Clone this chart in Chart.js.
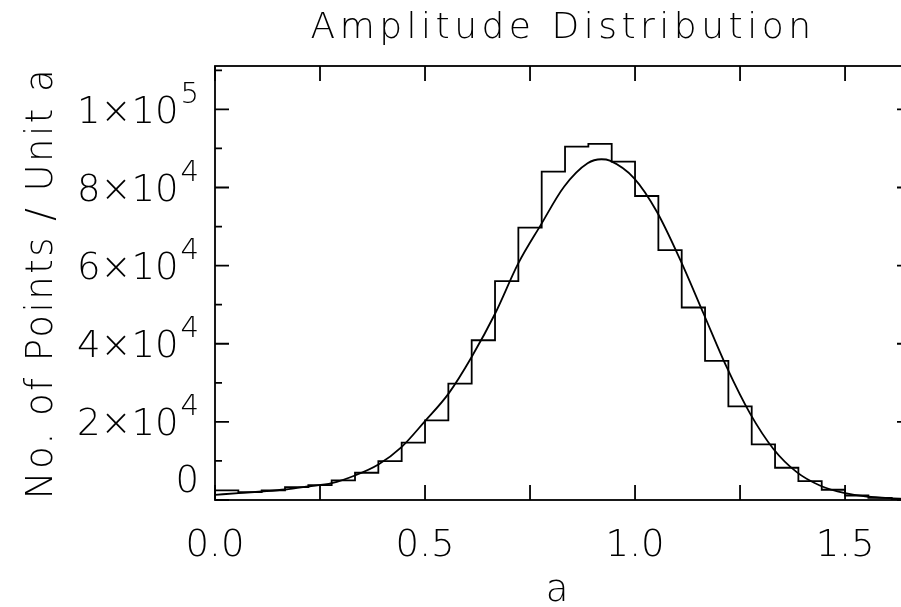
<!DOCTYPE html>
<html>
<head>
<meta charset="utf-8">
<title>Amplitude Distribution</title>
<script src="https://cdn.jsdelivr.net/npm/chart.js@4.4.1/dist/chart.umd.min.js"></script>
<style>
  html, body { margin: 0; padding: 0; background: #fff; overflow: hidden; }
  canvas { display: block; }
</style>
</head>
<body>
<canvas id="histChart" width="915" height="607"></canvas>
<script>
// histogram: bins of width 1/18 starting at a = 0
const binWidth = 1 / 18;
const binCounts = [
  2440, 2000, 2440, 3280, 3800, 5000, 6970, 9950, 14670, 20380,
  29800, 40900, 56030, 69700, 84050, 90460, 91150, 86600, 77820, 63970,
  49280, 35600, 23970, 14230, 8260, 4820, 2620, 1150, 560, 250
];

// fitted curve
const fitA = [0.0, 0.056, 0.111, 0.167, 0.222, 0.278, 0.333, 0.389, 0.444, 0.5,
  0.556, 0.611, 0.667, 0.722, 0.775, 0.831, 0.887, 0.92, 0.94, 0.998,
  1.052, 1.108, 1.163, 1.218, 1.274, 1.329, 1.385, 1.44, 1.5, 1.552, 1.607, 1.657];
const fitN = [1330, 1750, 2180, 2690, 3460, 4310, 6280, 9100, 13540, 20200,
  27230, 36620, 47740, 60560, 70300, 80200, 86200, 87230, 86870, 82360,
  73800, 61400, 47740, 34050, 22100, 13130, 7130, 3720, 1750, 900, 460, 250];

// axis labels
const xTickValues = [0, 0.5, 1.0, 1.5];
const xTickText = ['0.0', '0.5', '1.0', '1.5'];
const yTickValues = [0, 20000, 40000, 60000, 80000, 100000];
const yTickText = ['0', '2×10', '4×10', '6×10', '8×10', '1×10'];
const yTickExp = ['', '4', '4', '4', '4', '5'];

const FONT = '"DejaVu Sans", sans-serif';
const INK = '#000';

const histPoints = binCounts.map((c, i) => ({ x: i * binWidth, y: c }));
histPoints.push({ x: binCounts.length * binWidth, y: binCounts[binCounts.length - 1] });
const fitPoints = fitA.map((a, i) => ({ x: a, y: fitN[i] }));

const spacing = (ctx, px) => { if ('letterSpacing' in ctx) ctx.letterSpacing = px + 'px'; };

// IDL-like frame, inward ticks and labels
const idlAxes = {
  id: 'idlAxes',
  afterDatasetsDraw(chart) {
    const { ctx, chartArea: ca } = chart;
    const xs = chart.scales.x;
    const ys = chart.scales.y;
    ctx.save();
    ctx.strokeStyle = INK;
    ctx.fillStyle = INK;
    ctx.lineWidth = 1.8;
    ctx.strokeRect(ca.left, ca.top, ca.right - ca.left, ca.bottom - ca.top);

    ctx.beginPath();
    for (let a = 0; a <= xs.max + 1e-9; a += 0.25) {
      const px = xs.getPixelForValue(a);
      ctx.moveTo(px, ca.bottom); ctx.lineTo(px, ca.bottom - 15);
      ctx.moveTo(px, ca.top); ctx.lineTo(px, ca.top + 15);
    }
    for (let v = 0; v <= ys.max; v += 10000) {
      const py = ys.getPixelForValue(v);
      const len = v % 20000 === 0 ? 14 : 7;
      ctx.moveTo(ca.left, py); ctx.lineTo(ca.left + len, py);
      ctx.moveTo(ca.right, py); ctx.lineTo(ca.right - len, py);
    }
    ctx.stroke();

    spacing(ctx, 0);
    // x tick labels
    ctx.font = `200 37px ${FONT}`;
    ctx.textAlign = 'center';
    ctx.textBaseline = 'alphabetic';
    xTickValues.forEach((v, i) => {
      ctx.fillText(xTickText[i], xs.getPixelForValue(v), 556);
    });

    // y tick labels with superscript exponent
    const rightEdge = 199;
    yTickValues.forEach((v, i) => {
      const py = ys.getPixelForValue(v);
      ctx.textAlign = 'left';
      ctx.font = `200 29px ${FONT}`;
      const ew = yTickExp[i] ? ctx.measureText(yTickExp[i]).width + 2 : 0;
      ctx.font = `200 37px ${FONT}`;
      const mw = ctx.measureText(yTickText[i]).width;
      const x0 = rightEdge - ew - mw;
      if (!yTickExp[i]) {
        ctx.fillText(yTickText[i], x0, py - 8);
      } else {
        ctx.fillText(yTickText[i], x0, py + 13.5);
        ctx.font = `200 29px ${FONT}`;
        ctx.fillText(yTickExp[i], x0 + mw + 2, py - 6.5);
      }
    });

    // title
    ctx.font = `200 36px ${FONT}`;
    ctx.textAlign = 'center';
    spacing(ctx, 4.5);
    ctx.fillText('Amplitude Distribution', 563, 38);

    // x title
    spacing(ctx, 0);
    ctx.font = `200 37px ${FONT}`;
    ctx.fillText('a', 557, 601);

    // y title
    ctx.translate(52, (ca.top + ca.bottom) / 2);
    ctx.rotate(-Math.PI / 2);
    spacing(ctx, 2.5);
    ctx.fillText('No. of Points / Unit a', 0, 0);
    ctx.restore();
  }
};

const chart = new Chart(document.getElementById('histChart'), {
  type: 'line',
  data: {
    datasets: [
      {
        label: 'histogram',
        data: histPoints,
        stepped: true,
        borderColor: INK,
        borderWidth: 1.8,
        pointRadius: 0,
        fill: false,
      },
      {
        label: 'fit',
        data: fitPoints,
        cubicInterpolationMode: 'monotone',
        borderColor: INK,
        borderWidth: 1.8,
        pointRadius: 0,
        fill: false,
      },
    ],
  },
  options: {
    responsive: false,
    animation: false,
    events: [],
    layout: { padding: { left: 215, top: 66, right: 4, bottom: 107 } },
    scales: {
      x: { type: 'linear', min: 0, max: 1.657, display: false },
      y: { type: 'linear', min: 0, max: 111100, display: false },
    },
    plugins: {
      legend: { display: false },
      title: { display: false },
      tooltip: { enabled: false },
    },
  },
  plugins: [idlAxes],
});
</script>
</body>
</html>
